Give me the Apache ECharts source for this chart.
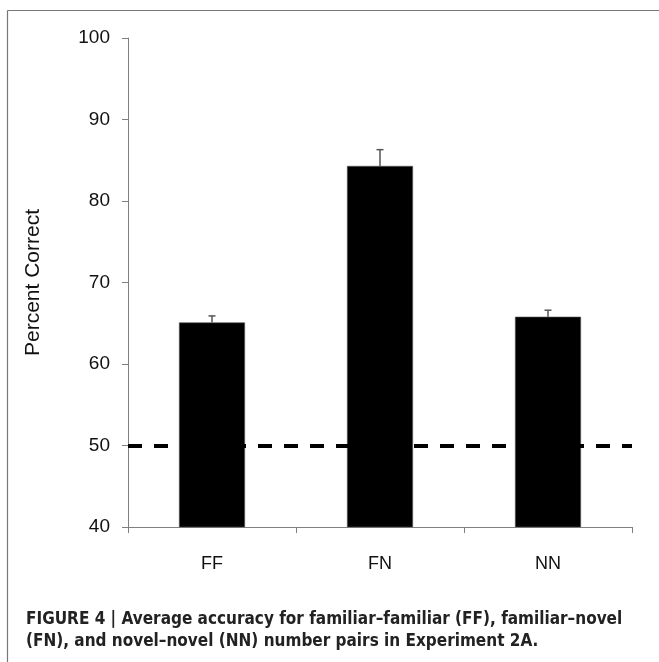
<!DOCTYPE html>
<html><head><meta charset="utf-8">
<script src="https://cdn.jsdelivr.net/npm/echarts@6/dist/echarts.min.js"></script>
<style>html,body{margin:0;padding:0;background:#fff;}#c{width:659px;height:662px;}</style>
</head><body><div id="c"></div>
<script>
const categories = ['FF', 'FN', 'NN'];
const percentCorrect = [65.1, 84.3, 65.8];
const errorUp = [0.8, 2.0, 0.8];
const chanceLevel = 50;
const yTicks = [40, 50, 60, 70, 80, 90, 100];
const captionLines = [
  'FIGURE 4 | Average accuracy for familiar\u2013familiar (FF), familiar\u2013novel',
  '(FN), and novel\u2013novel (NN) number pairs in Experiment 2A.'
];

const chart = echarts.init(document.getElementById('c'), null, {renderer: 'canvas'});
const axisGray = '#808080';
const font = 'Liberation Sans, Arial, sans-serif';
const capFont = '"Liberation Sans Narrow", "DejaVu Sans Condensed", "Liberation Sans", sans-serif';

chart.setOption({
  animation: false,
  backgroundColor: '#fff',
  grid: {left: 128, right: 27, top: 38, bottom: 135, containLabel: false},
  xAxis: {
    type: 'category',
    data: categories,
    boundaryGap: true,
    axisLine: {lineStyle: {color: axisGray, width: 1}},
    axisTick: {show: true, alignWithLabel: false, length: 6, lineStyle: {color: axisGray}},
    axisLabel: {color: '#111', fontFamily: font, fontSize: 18, margin: 28}
  },
  yAxis: {
    type: 'value',
    min: yTicks[0], max: yTicks[yTicks.length - 1], interval: 10,
    name: 'Percent Correct',
    nameLocation: 'middle',
    nameGap: 84,
    nameTextStyle: {color: '#111', fontFamily: font, fontSize: 21},
    splitLine: {show: false},
    axisLine: {show: true, lineStyle: {color: axisGray, width: 1}},
    axisTick: {show: true, length: 6, lineStyle: {color: axisGray}},
    axisLabel: {color: '#111', fontFamily: font, fontSize: 19, margin: 18}
  },
  series: [
    {
      type: 'bar',
      data: percentCorrect,
      barWidth: 66,
      itemStyle: {color: '#000', borderColor: '#555', borderWidth: 0.6},
      z: 2,
      markLine: {
        silent: true,
        symbol: 'none',
        label: {show: false},
        lineStyle: {color: '#000', width: 4, type: [14, 12]},
        data: [{yAxis: chanceLevel}]
      }
    },
    {
      type: 'custom',
      z: 3,
      data: percentCorrect.map((v, i) => [i, v, v + errorUp[i]]),
      renderItem: function (params, api) {
        const x = api.coord([api.value(0), api.value(1)])[0];
        const yLow = api.coord([api.value(0), api.value(1)])[1];
        const yHigh = api.coord([api.value(0), api.value(2)])[1];
        const style = {stroke: '#555', lineWidth: 1.5};
        return {
          type: 'group',
          children: [
            {type: 'line', shape: {x1: x, y1: yLow, x2: x, y2: yHigh}, style: style},
            {type: 'line', shape: {x1: x - 3.5, y1: yHigh, x2: x + 3.5, y2: yHigh}, style: style}
          ]
        };
      }
    }
  ],
  graphic: [
    {type: 'line', shape: {x1: 7.5, y1: 10.5, x2: 659, y2: 10.5}, style: {stroke: '#777', lineWidth: 1.2}},
    {type: 'line', shape: {x1: 7.5, y1: 10.5, x2: 7.5, y2: 662}, style: {stroke: '#777', lineWidth: 1.2}},
    {type: 'text', left: 26, top: 611, style: {text: captionLines[0], font: 'bold 17px ' + capFont, fill: '#222'}},
    {type: 'text', left: 26, top: 633, style: {text: captionLines[1], font: 'bold 17px ' + capFont, fill: '#222'}}
  ]
});
</script></body></html>
